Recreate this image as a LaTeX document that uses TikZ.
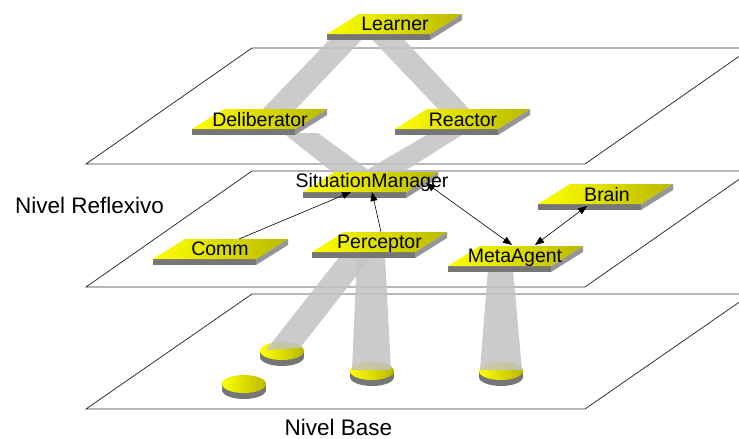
\documentclass[tikz,border=0pt]{standalone}
\usepackage{fontspec}
\setmainfont{Liberation Sans}
\usetikzlibrary{arrows.meta}
\definecolor{ybright}{RGB}{255,255,0}
\definecolor{ydark}{RGB}{185,185,0}
\definecolor{sfront}{RGB}{118,118,118}
\definecolor{sside}{RGB}{150,150,150}
\definecolor{beamc}{RGB}{195,195,195}
\newcommand{\myslab}[2]{%
  \fill[sfront] (#1,#2+20) -- (#1+103,#2+20) -- (#1+103,#2+26) -- (#1,#2+26) -- cycle;
  \fill[sside] (#1+103,#2+20) -- (#1+135,#2) -- (#1+135,#2+6) -- (#1+103,#2+26) -- cycle;
  \shade[left color=ybright, right color=ydark] (#1+32,#2) -- (#1+135,#2) -- (#1+103,#2+20) -- (#1,#2+20) -- cycle;
}
\newcommand{\mydisk}[2]{%
  \fill[sfront] (#1,#2+6) ellipse [x radius=22, y radius=9];
  \fill[sfront] (#1-22,#2) rectangle (#1+22,#2+6);
  \shade[left color=ybright, right color=ydark] (#1,#2) ellipse [x radius=22, y radius=9];
}
\begin{document}
\begin{tikzpicture}[x=1pt,y=-1pt,
  plane/.style={draw=black!80, line width=0.8pt, line join=miter},
  beam/.style={fill=beamc, opacity=0.85},
  lbl/.style={font=\fontsize{19.5}{22}\selectfont, inner sep=0pt, anchor=base},
  levellbl/.style={font=\fontsize{22.5}{25}\selectfont, inner sep=0pt, anchor=base},
  arr/.style={line width=0.6pt, -{Triangle[length=9pt,width=7pt]}},
  darr/.style={line width=0.6pt, {Triangle[length=9pt,width=7pt]}-{Triangle[length=9pt,width=7pt]}}]
\useasboundingbox (0,0) rectangle (739,439);
\clip (0,0) rectangle (739,439);
\fill[white] (0,0) rectangle (739,439);

% planes
\draw[plane] (86,164) -- (585,164) -- (751,48) -- (252,48) -- cycle;
\draw[plane] (86,287) -- (585,287) -- (751,171) -- (252,171) -- cycle;
\draw[plane] (86,409) -- (585,409) -- (751,294) -- (252,294) -- cycle;

% disks
\mydisk{282}{351}
\mydisk{244}{384}
\mydisk{372}{371}
\mydisk{501}{371}

% beams
\fill[beam] (337,32) -- (369,32) -- (293,112) -- (260,112) -- cycle;
\fill[beam] (365,32) -- (397,32) -- (472,112) -- (441,112) -- cycle;
\fill[beam] (283,133) -- (318,133) -- (374,174) -- (335,174) -- cycle;
\fill[beam] (430,133) -- (465,133) -- (400,174) -- (360,174) -- cycle;
\fill[beam] (340,256) -- (372,256) -- (300,348) -- (266,350) -- cycle;
\fill[beam] (357,256) -- (385,256) -- (391,370) -- (352,370) -- cycle;
\fill[beam] (488,270) -- (513,270) -- (522,370) -- (480,370) -- cycle;

% slabs
\myslab{327}{14}
\myslab{192}{109}
\myslab{395}{109}
\myslab{303}{172}
\myslab{153}{239}
\myslab{312}{232}
\myslab{448}{246}
\myslab{538}{184}

% arrow end points
\coordinate (commA) at (239,239);
\coordinate (smA) at (351,192);
\coordinate (percA) at (381,232);
\coordinate (smB) at (372,192);
\coordinate (smC) at (426,183);
\coordinate (metaA) at (512,245);
\coordinate (metaB) at (535,245);
\coordinate (brainA) at (587,206);

\draw[arr] (commA) -- (smA);
\draw[arr] (percA) -- (smB);
\draw[darr] (smC) -- (metaA);
\draw[darr] (metaB) -- (brainA);

% texts
\node[lbl] (learner) at (395,30) {Learner};
\node[lbl] (delib) at (260,126) {Deliberator};
\node[lbl] (reactor) at (463,126) {Reactor};
\node[lbl] (sm) at (372,187) {SituationManager};
\node[lbl] (comm) at (220,255) {Comm};
\node[lbl] (perc) at (379.5,248) {Perceptor};
\node[lbl] (meta) at (515,262) {MetaAgent};
\node[lbl] (brain) at (607,201) {Brain};
\node[levellbl] (reflex) at (89.5,213) {Nivel Reflexivo};
\node[levellbl] (base) at (338.5,435) {Nivel Base};
\end{tikzpicture}
\end{document}
